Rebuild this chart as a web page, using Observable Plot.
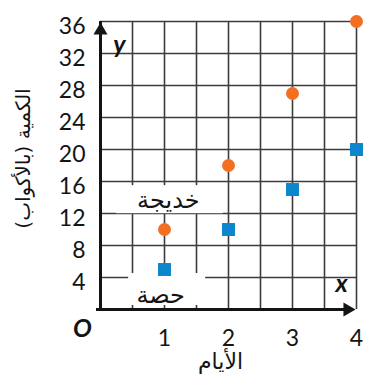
<!DOCTYPE html>
<html><head><meta charset="utf-8">
<script src="https://cdn.jsdelivr.net/npm/d3@7"></script>
<script src="https://cdn.jsdelivr.net/npm/@observablehq/plot@0.6"></script>
<style>body{margin:0;background:#fff} svg{overflow:visible}</style>
</head><body><div id="chart"></div>
<script>
const days = [1, 2, 3, 4];
const khadija = [10, 18, 27, 36];
const hessa = [5, 10, 15, 20];
const xTicks = [1, 2, 3, 4];
const yTicks = [4, 8, 12, 16, 20, 24, 28, 32, 36];
const xGrid = [0.5, 1, 1.5, 2, 2.5, 3, 3.5, 4];
const yGrid = [4, 8, 12, 16, 20, 24, 28, 32, 36];
const seriesNames = ["خديجة", "حصة"];
const labelX = [1.06, 0.94];
const labelY = [13.6, 1.75];
const xTitle = "الأيام";
const yTitle = "الكمية (بالأكواب)";

const kData = days.map((d, i) => ({day: d, cups: khadija[i]}));
const hData = days.map((d, i) => ({day: d, cups: hessa[i]}));
const labels = seriesNames.map((n, i) => ({name: n, x: labelX[i], y: labelY[i]}));

const ORANGE = "#f37021";
const BLUE = "#0a86cc";
const GRID = "#3c3c3c";
const INK = "#141414";
const AR = "'DejaVu Sans', 'Noto Sans', sans-serif";

const chart = Plot.plot({
  width: 365,
  height: 387,
  marginLeft: 100,
  marginRight: 9,
  marginTop: 21,
  marginBottom: 78,
  x: {domain: [0, 4]},
  y: {domain: [0, 36]},
  style: {fontFamily: "Lato, sans-serif", background: "white", color: INK},
  marks: [
    Plot.ruleX(xGrid, {y1: 0, y2: 36, stroke: GRID, strokeWidth: 1.6}),
    Plot.ruleY(yGrid, {x1: 0, x2: 4, stroke: GRID, strokeWidth: 1.6}),
    Plot.rect([labels[0]], {x1: "x", x2: "x", y1: "y", y2: "y", fill: "white",
      insetLeft: -52, insetRight: -55, insetTop: -15, insetBottom: -13}),
    Plot.rect([labels[1]], {x1: "x", x2: "x", y1: "y", y2: "y", fill: "white",
      insetLeft: -32, insetRight: -45, insetTop: -22, insetBottom: -10}),
    Plot.ruleX([0], {y1: 0, y2: 36, stroke: INK, strokeWidth: 3}),
    Plot.ruleY([0], {x1: 0, x2: 4, stroke: INK, strokeWidth: 3, dx: -4}),
    Plot.dot([0], {x: 0, y: 36, symbol: "triangle", r: 5.2, fill: INK, stroke: null, dy: 9}),
    Plot.dot([0], {x: 4, y: 0, symbol: "triangle", r: 5.2, fill: INK, stroke: null, dx: -9, rotate: 90}),
    Plot.dot(kData, {x: "day", y: "cups", r: 6.5, fill: ORANGE, stroke: null}),
    Plot.dot(hData, {x: "day", y: "cups", symbol: "square", r: 7.3, fill: BLUE, stroke: null}),
    Plot.text(labels, {x: "x", y: "y", text: "name", fontSize: 24, fontFamily: AR, fill: INK}),
    Plot.axisY({ticks: yTicks, tickSize: 0, tickPadding: 15, fontSize: 23, dy: 5, label: null, fill: INK, tickFormat: d => String(d)}),
    Plot.axisX({ticks: xTicks, tickSize: 0, tickPadding: 20, fontSize: 23, label: null, fill: INK, tickFormat: d => String(d)}),
    Plot.text(["O"], {x: 0, y: 0, dx: -18, dy: 19, fontSize: 25, fontStyle: "italic", fontWeight: "bold", fill: INK}),
    Plot.text(["y"], {frameAnchor: "top-left", textAnchor: "middle", dx: 19, dy: 14, fontSize: 25, fontStyle: "italic", fontWeight: "bold", fill: INK}),
    Plot.text(["x"], {frameAnchor: "bottom-right", textAnchor: "middle", dx: -15, dy: -18, fontSize: 25, fontStyle: "italic", fontWeight: "bold", fill: INK}),
    Plot.text([xTitle], {frameAnchor: "bottom", textAnchor: "middle", dx: -8, dy: 59, fontSize: 22, fontFamily: AR, fill: INK}),
    Plot.text([yTitle], {frameAnchor: "left", textAnchor: "middle", dx: -77, dy: -7, rotate: -90, fontSize: 20, fontFamily: AR, fill: INK})
  ]
});
document.getElementById("chart").appendChild(chart);
</script>
</body></html>
